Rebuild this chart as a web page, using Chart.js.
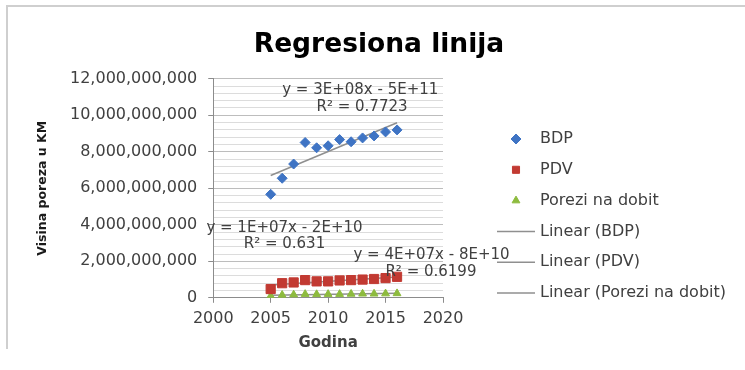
<!DOCTYPE html>
<html>
<head>
<meta charset="utf-8">
<script src="https://cdn.jsdelivr.net/npm/chart.js@4.4.1/dist/chart.umd.min.js"></script>
<style>
  body { margin: 0; background: #fff; }
  #wrap { position: relative; width: 745px; height: 370px; }
  #frame { position: absolute; left: 6px; top: 5px; width: 739px; height: 342px;
           border-top: 2px solid #cfcfcf; border-left: 2px solid #cfcfcf; }
  #myScatter { position: absolute; left: 0; top: 0; }
</style>
</head>
<body>
<div id="wrap">
  <div id="frame"></div>
  <canvas id="myScatter" width="745" height="370"></canvas>
</div>
<script>
// Podaci (procjena sa slike)
var godine = [2005, 2006, 2007, 2008, 2009, 2010, 2011, 2012, 2013, 2014, 2015, 2016];
var bdp = [5.67e9, 6.55e9, 7.33e9, 8.51e9, 8.22e9, 8.33e9, 8.67e9, 8.55e9, 8.76e9, 8.87e9, 9.09e9, 9.2e9];
var pdv = [0.48e9, 0.8e9, 0.84e9, 0.97e9, 0.9e9, 0.9e9, 0.95e9, 0.97e9, 1.0e9, 1.03e9, 1.08e9, 1.15e9];
var porezi = [0.1e9, 0.15e9, 0.17e9, 0.2e9, 0.19e9, 0.2e9, 0.2e9, 0.21e9, 0.22e9, 0.22e9, 0.23e9, 0.24e9];
var xTicks = [2000, 2005, 2010, 2015, 2020];
var yMajor = 2e9;

// tekst jednacina trend linija
var jednacine = [
  { text: "y = 3E+08x - 5E+11", x: 2012.8, y: 11.38e9 },
  { text: "R\u00b2 = 0.7723", x: 2012.95, y: 10.46e9 },
  { text: "y = 1E+07x - 2E+10", x: 2006.2, y: 3.8e9 },
  { text: "R\u00b2 = 0.631", x: 2006.2, y: 2.93e9 },
  { text: "y = 4E+07x - 8E+10", x: 2019.0, y: 2.33e9 },
  { text: "R\u00b2 = 0.6199", x: 2018.95, y: 1.4e9 },
];

Chart.defaults.font.family = '"DejaVu Sans", sans-serif';
Chart.defaults.color = "#404040";

function number_format(v) {
  return String(Math.round(v)).replace(/\B(?=(\d{3})+(?!\d))/g, ",");
}

function toPoints(xs, ys) {
  return xs.map(function (x, i) { return { x: x, y: ys[i] }; });
}

// linearni trend (najmanji kvadrati)
function trend(xs, ys) {
  var n = xs.length, sx = 0, sy = 0, sxx = 0, sxy = 0;
  for (var i = 0; i < n; i++) {
    sx += xs[i]; sy += ys[i]; sxx += xs[i] * xs[i]; sxy += xs[i] * ys[i];
  }
  var m = (n * sxy - sx * sy) / (n * sxx - sx * sx);
  var b = (sy - m * sx) / n;
  var x0 = xs[0], x1 = xs[n - 1];
  return [{ x: x0, y: m * x0 + b }, { x: x1, y: m * x1 + b }];
}

function trendSet(label, ys) {
  return {
    type: "line",
    label: label,
    data: trend(godine, ys),
    borderColor: "#8f8f8f",
    borderWidth: 1.5,
    pointRadius: 0,
    pointStyle: "line",
    fill: false,
    order: 1,
  };
}

var sideLegend = {
  id: "sideLegend",
  afterDraw: function (chart) {
    var ctx = chart.ctx;
    var x0 = chart.chartArea.right + 54, boxW = 38, y0 = 139, step = 30.8;
    ctx.save();
    ctx.font = '16px "DejaVu Sans"';
    ctx.textBaseline = "middle";
    ctx.textAlign = "left";
    chart.data.datasets.forEach(function (ds, i) {
      var y = y0 + i * step;
      var cx = x0 + boxW / 2;
      if (ds.type === "line") {
        ctx.strokeStyle = ds.borderColor;
        ctx.lineWidth = 1.5;
        ctx.beginPath();
        ctx.moveTo(x0, y);
        ctx.lineTo(x0 + boxW, y);
        ctx.stroke();
      } else {
        ctx.fillStyle = ds.backgroundColor;
        ctx.strokeStyle = ds.borderColor;
        ctx.lineWidth = 1;
        Chart.helpers.drawPoint(ctx, { pointStyle: ds.pointStyle, radius: Math.min(ds.pointRadius, 5), rotation: 0, borderWidth: 1 }, cx, y);
      }
      ctx.fillStyle = "#404040";
      ctx.fillText(ds.label, x0 + boxW + 5, y);
    });
    ctx.restore();
  },
};

var trendLabels = {
  id: "trendLabels",
  afterDatasetsDraw: function (chart) {
    var ctx = chart.ctx, sx = chart.scales.x, sy = chart.scales.y;
    ctx.save();
    ctx.font = '15px "DejaVu Sans"';
    ctx.fillStyle = "#404040";
    ctx.textAlign = "center";
    ctx.textBaseline = "middle";
    jednacine.forEach(function (l) {
      ctx.fillText(l.text, sx.getPixelForValue(l.x), sy.getPixelForValue(l.y));
    });
    ctx.restore();
  },
};

var ctx = document.getElementById("myScatter").getContext("2d");
var myScatter = new Chart(ctx, {
  type: "scatter",
  data: {
    datasets: [
      {
        label: "BDP",
        data: toPoints(godine, bdp),
        backgroundColor: "#3f74c4",
        borderColor: "#3f74c4",
        pointStyle: "rectRot",
        pointRadius: 5,
        order: 0,
      },
      {
        label: "PDV",
        data: toPoints(godine, pdv),
        backgroundColor: "#c23a32",
        borderColor: "#c23a32",
        pointStyle: "rect",
        pointRadius: 6.5,
        order: 0,
      },
      {
        label: "Porezi na dobit",
        data: toPoints(godine, porezi),
        backgroundColor: "#8dbb3e",
        borderColor: "#8dbb3e",
        pointStyle: "triangle",
        pointRadius: 4.5,
        order: 0,
      },
      trendSet("Linear (BDP)", bdp),
      trendSet("Linear (PDV)", pdv),
      trendSet("Linear (Porezi na dobit)", porezi),
    ],
  },
  options: {
    responsive: false,
    animation: false,
    layout: {
      padding: { left: 13, right: 0, top: 10, bottom: 14 },
    },
    scales: {
      x: {
        type: "linear",
        min: xTicks[0],
        max: xTicks[xTicks.length - 1],
        afterBuildTicks: function (scale) {
          scale.ticks = xTicks.map(function (v) { return { value: v }; });
        },
        // mjesto za legendu desno
        afterFit: function (scale) {
          scale.paddingRight = 302;
        },
        grid: { drawOnChartArea: false, tickLength: 5, tickColor: "#8c8c8c" },
        border: { color: "#8c8c8c" },
        ticks: {
          padding: 6,
          font: { size: 16 },
          callback: function (v) { return String(v); },
        },
        title: {
          display: true,
          text: "Godina",
          font: { size: 15, weight: "bold" },
          padding: { top: 0, bottom: 4 },
        },
      },
      y: {
        min: 0,
        max: 12e9,
        ticks: {
          stepSize: 4e8,
          maxTicksLimit: 40,
          autoSkip: false,
          padding: 11,
          font: { size: 16 },
          callback: function (v) {
            return v % yMajor === 0 ? number_format(v) : "";
          },
        },
        grid: {
          tickLength: 5,
          color: function (c) {
            return c.tick && c.tick.value % yMajor === 0 ? "#bdbdbd" : "#dcdcdc";
          },
          tickColor: function (c) {
            return c.tick && c.tick.value % yMajor === 0 ? "#8c8c8c" : "rgba(0,0,0,0)";
          },
        },
        border: { color: "#8c8c8c" },
        title: {
          display: true,
          text: "Visina poreza u KM",
          font: { size: 12.5, weight: "bold" },
          color: "#1a1a1a",
          padding: { top: 22, bottom: 9 },
        },
      },
    },
    plugins: {
      legend: { display: false },
      tooltip: { enabled: false },
      title: {
        display: true,
        text: "Regresiona linija",
        color: "#000",
        font: { size: 26.5, weight: "bold" },
        padding: { top: 19, bottom: 18 },
      },
    },
  },
  plugins: [trendLabels, sideLegend],
});
</script>
</body>
</html>
